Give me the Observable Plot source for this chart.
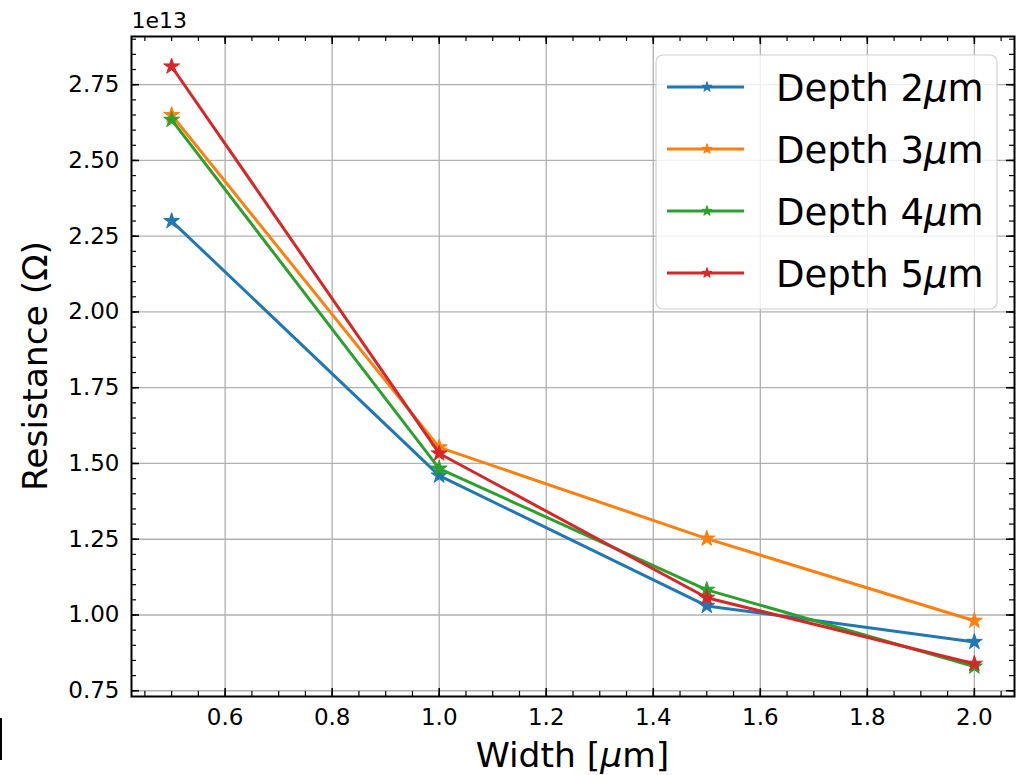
<!DOCTYPE html>
<html><head><meta charset="utf-8">
<script src="https://cdn.jsdelivr.net/npm/d3@7"></script>
<script src="https://cdn.jsdelivr.net/npm/@observablehq/plot@0.6"></script>
<style>
html,body{margin:0;padding:0;background:#fff;}
#chart{position:relative;width:1016px;height:775px;overflow:hidden;}
#chart svg text{font-family:"DejaVu Sans",sans-serif;}
#artifact{position:absolute;left:0;top:718px;width:2px;height:42px;background:#000;}
</style></head><body><div id="chart"><div id="artifact"></div></div>
<script>
// ---- data ----
const widths = [0.5, 1.0, 1.5, 2.0];
const depth2 = [2.30, 1.46, 1.03, 0.911];
const depth3 = [2.65, 1.553, 1.252, 0.981];
const depth4 = [2.634, 1.483, 1.083, 0.83];
const depth5 = [2.81, 1.533, 1.057, 0.839];
const seriesDepths = ["2", "3", "4", "5"];
const seriesColors = ["#1f77b4", "#ff7f0e", "#2ca02c", "#d62728"];
const xTicks = [0.6, 0.8, 1.0, 1.2, 1.4, 1.6, 1.8, 2.0];
const yTicks = [0.75, 1.00, 1.25, 1.50, 1.75, 2.00, 2.25, 2.50, 2.75];
const yExponent = "1e13";

const seriesValues = [depth2, depth3, depth4, depth5];
const rows = seriesValues.flatMap((vals, s) => vals.map((v, i) => ({s, w: widths[i], r: v})));

// matplotlib-like 5% margins
function padded(ext) { const d = (ext[1] - ext[0]) * 0.05; return [ext[0] - d, ext[1] + d]; }
const xDomain = padded(d3.extent(widths));
const yDomain = padded(d3.extent(rows, d => d.r));
const xMinor = d3.range(0.45, 2.0751, 0.05).map(v => +v.toFixed(2));
const yMinor = d3.range(0.75, yDomain[1], 0.05).map(v => +v.toFixed(2));

const W = 1016, H = 775, mL = 131, mR = 2, mT = 36, mB = 79;
const ph = H - mT - mB, pw = W - mL - mR;

const seriesMarks = seriesValues.flatMap((vals, s) => {
  const data = rows.filter(d => d.s === s);
  return [
    Plot.line(data, {x: "w", y: "r", stroke: seriesColors[s], strokeWidth: 3}),
    Plot.dot(data, {x: "w", y: "r", symbol: "star", r: 5, fill: seriesColors[s], stroke: seriesColors[s], strokeWidth: 1})
  ];
});

const tickStyle = {stroke: "black", strokeWidth: 1.6};
const minorStyle = {stroke: "black", strokeWidth: 1.2};

const plot = Plot.plot({
  width: W, height: H,
  marginLeft: mL, marginRight: mR, marginTop: mT, marginBottom: mB,
  style: {fontFamily: "DejaVu Sans, sans-serif", fontSize: "23px", color: "black", background: "white"},
  x: {domain: xDomain},
  y: {domain: yDomain},
  marks: [
    Plot.ruleX(xTicks, {x: d => d, stroke: "#b0b0b0", strokeWidth: 1.3}),
    Plot.ruleY(yTicks, {y: d => d, stroke: "#b0b0b0", strokeWidth: 1.3}),
    ...seriesMarks,
    // inward ticks on all sides
    Plot.ruleX(xTicks, {x: d => d, insetTop: ph - 8, ...tickStyle}),
    Plot.ruleX(xTicks, {x: d => d, insetBottom: ph - 8, ...tickStyle}),
    Plot.ruleX(xMinor, {x: d => d, insetTop: ph - 5, ...minorStyle}),
    Plot.ruleX(xMinor, {x: d => d, insetBottom: ph - 5, ...minorStyle}),
    Plot.ruleY(yTicks, {y: d => d, insetRight: pw - 8, ...tickStyle}),
    Plot.ruleY(yTicks, {y: d => d, insetLeft: pw - 8, ...tickStyle}),
    Plot.ruleY(yMinor, {y: d => d, insetRight: pw - 5, ...minorStyle}),
    Plot.ruleY(yMinor, {y: d => d, insetLeft: pw - 5, ...minorStyle}),
    Plot.frame({stroke: "black", strokeWidth: 2}),
    Plot.axisX({ticks: xTicks, tickSize: 0, tickPadding: 12, tickFormat: d3.format(".1f"), label: null}),
    Plot.axisY({ticks: yTicks, tickSize: 0, tickPadding: 12, tickFormat: d3.format(".2f"), label: null}),
    Plot.text([yExponent], {frameAnchor: "top-left", text: d => d, textAnchor: "start", lineAnchor: "bottom", dy: -9, dx: 0, fontSize: 22})
  ]
});
document.getElementById("chart").appendChild(plot);

const svg = d3.select(plot);
// axis labels
const xl = svg.append("text").attr("x", mL + pw / 2).attr("y", 767).attr("text-anchor", "middle")
  .attr("font-size", 34.5).attr("fill", "black");
xl.append("tspan").text("Width [");
xl.append("tspan").attr("font-style", "italic").text("\u03bc");
xl.append("tspan").text("m]");
svg.append("text").attr("transform", `translate(47,${mT + ph / 2}) rotate(-90)`).attr("text-anchor", "middle")
  .attr("font-size", 34.5).attr("fill", "black").text("Resistance (\u03a9)");

// legend
const lg = svg.append("g");
lg.append("rect").attr("x", 656).attr("y", 55).attr("width", 341).attr("height", 254).attr("rx", 7)
  .attr("fill", "white").attr("fill-opacity", 0.8).attr("stroke", "#d0d0d0").attr("stroke-width", 1.2);
const star = d3.symbol(d3.symbolStar, Math.PI * 3.2 * 3.2);
seriesDepths.forEach((dep, i) => {
  const y = 87 + i * 62;
  lg.append("line").attr("x1", 667).attr("x2", 744).attr("y1", y).attr("y2", y)
    .attr("stroke", seriesColors[i]).attr("stroke-width", 3);
  lg.append("path").attr("d", star()).attr("transform", `translate(707,${y})`)
    .attr("fill", seriesColors[i]).attr("stroke", seriesColors[i]).attr("stroke-width", 1);
  const t = lg.append("text").attr("x", 776).attr("y", y + 14).attr("text-anchor", "start")
    .attr("font-size", 37).attr("fill", "black");
  t.append("tspan").text("Depth " + dep);
  t.append("tspan").attr("font-style", "italic").text("\u03bc");
  t.append("tspan").text("m");
});
</script></body></html>
